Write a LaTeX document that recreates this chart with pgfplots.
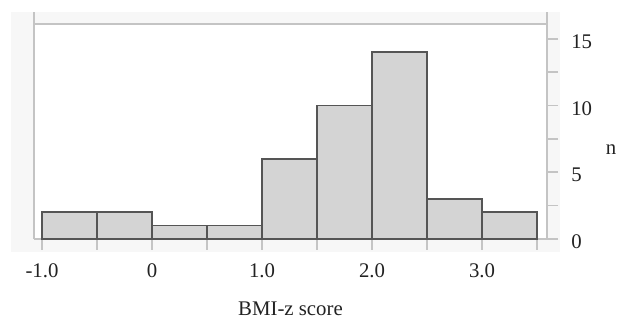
\documentclass[border=0pt]{standalone}
\usepackage{fontspec}
\setmainfont{Liberation Serif}
\usepackage{pgfplots}
\pgfplotsset{compat=1.18}
\definecolor{axgray}{HTML}{C4C4C4}
\definecolor{barfill}{HTML}{D4D4D4}
\definecolor{baredge}{HTML}{555555}
\definecolor{panel}{HTML}{F7F7F7}
\definecolor{txt}{HTML}{222222}
\begin{document}
\fontsize{10.4pt}{12pt}\selectfont
\begin{tikzpicture}[x=1pt,y=1pt]
\useasboundingbox (0,0) rectangle (309,160);
\fill[panel] (5.5,34) rectangle (280,154);
\fill[white] (17,40.5) rectangle (273.5,148);
\begin{axis}[
  at={(17pt,40.5pt)}, anchor=south west,
  scale only axis, width=256.5pt, height=113.5pt,
  xmin=-1.073, xmax=3.59, ymin=0, ymax=17,
  axis x line*=bottom, axis y line*=right,
  axis line style={-, axgray, line width=0.8pt},
  xtick={-1,0,1,2,3}, xticklabels={-1.0,0,1.0,2.0,3.0},
  minor xtick={-0.5,0.5,1.5,2.5,3.5},
  ytick={0,5,10,15}, minor ytick={2.5,7.5,12.5},
  tick align=outside,
  major tick length=5.5pt, minor tick length=5.5pt,
  tick style={axgray, line width=0.8pt},
  every tick label/.append style={font=\fontsize{10.4pt}{12pt}\selectfont, text=txt},
  /pgf/number format/assume math mode=true,
  xticklabel style={yshift=-3pt},
  yticklabel style={xshift=3pt, yshift=-1.5pt},
  clip=false,
]
\addplot[ybar interval, fill=barfill, draw=baredge, line width=0.8pt] coordinates {
  (-1,2) (-0.5,2) (0,1) (0.5,1) (1,6) (1.5,10) (2,14) (2.5,3) (3,2) (3.5,2)
};
\draw[axgray, line width=0.8pt] (axis cs:-1.073,0) -- (axis cs:-1.073,17);
\draw[axgray, line width=0.8pt] (axis cs:-1.073,16.1) -- (axis cs:3.59,16.1);
\node[text=txt] at (rel axis cs:1,0.396) [xshift=32pt] {n};
\node[text=txt] at (rel axis cs:0.5,0) [yshift=-35pt] {BMI-z score};
\end{axis}
\end{tikzpicture}
\end{document}
